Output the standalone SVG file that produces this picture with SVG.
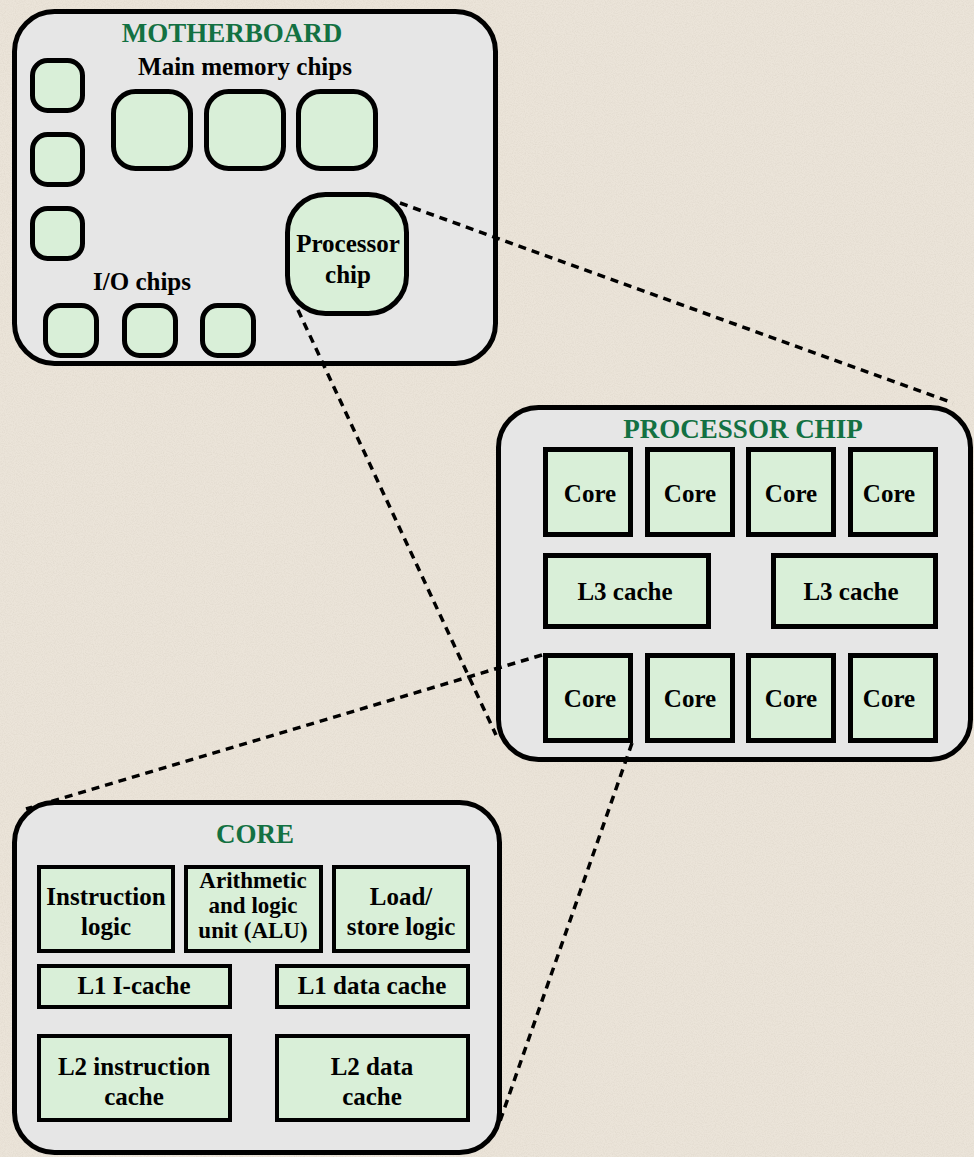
<svg xmlns="http://www.w3.org/2000/svg" width="974" height="1157" viewBox="0 0 974 1157">
<defs>
<filter id="grain" x="0" y="0" width="100%" height="100%">
<feTurbulence type="fractalNoise" baseFrequency="0.9" numOctaves="2" seed="3" result="n"/>
<feColorMatrix in="n" type="matrix" values="0 0 0 0 0.55  0 0 0 0 0.5  0 0 0 0 0.42  0 0 0 1.2 -0.45"/>
</filter>
<style>
.bg{fill:#ebe4d9}
.board{fill:#e6e6e6;stroke:#000;stroke-width:5}
.chip{fill:#d9efd8;stroke:#000;stroke-width:5}
.blk{fill:#d9efd8;stroke:#000;stroke-width:4}
.title{font-family:"Liberation Serif","Times New Roman",serif;font-weight:bold;font-size:27px;fill:#137142;text-anchor:middle}
.lbl{font-family:"Liberation Serif","Times New Roman",serif;font-weight:bold;font-size:25px;fill:#000;text-anchor:middle}
.sm{font-size:23px}
.dash{fill:none;stroke:#000;stroke-width:3.5;stroke-dasharray:8 6}
</style>
</defs>
<rect class="bg" x="0" y="0" width="974" height="1157"/>
<rect x="0" y="0" width="974" height="1157" filter="url(#grain)" opacity="0.35"/>

<g id="motherboard">
<rect class="board" x="14.5" y="11.5" width="481" height="352" rx="40"/>
<text class="title" x="232" y="42">MOTHERBOARD</text>
<text class="lbl" x="245" y="75">Main memory chips</text>
<rect class="chip" x="32.5" y="60.5" width="50" height="50" rx="15"/>
<rect class="chip" x="32.5" y="134.5" width="50" height="50" rx="15"/>
<rect class="chip" x="32.5" y="208.5" width="50" height="50" rx="15"/>
<rect class="chip" x="113.5" y="91.5" width="77" height="77" rx="22"/>
<rect class="chip" x="206.5" y="91.5" width="77" height="77" rx="22"/>
<rect class="chip" x="298.5" y="91.5" width="77" height="77" rx="22"/>
<text class="lbl" x="142" y="290">I/O chips</text>
<rect class="chip" x="45.5" y="305.5" width="51" height="50" rx="15"/>
<rect class="chip" x="124.5" y="305.5" width="51" height="50" rx="15"/>
<rect class="chip" x="202.5" y="305.5" width="51" height="50" rx="15"/>
</g>

<g id="processor-chip-small">
<rect class="chip" x="287.5" y="194.5" width="119" height="119" rx="38"/>
<text class="lbl" x="348" y="252">Processor</text>
<text class="lbl" x="348" y="283">chip</text>
</g>

<g id="processor-chip">
<rect class="board" x="498.5" y="407.5" width="472" height="352" rx="40"/>
<text class="title" x="743" y="438">PROCESSOR CHIP</text>
<rect class="chip" x="545.5" y="449.5" width="85" height="85"/>
<rect class="chip" x="647.5" y="449.5" width="85" height="85"/>
<rect class="chip" x="748.5" y="449.5" width="85" height="85"/>
<rect class="chip" x="850.5" y="449.5" width="85" height="85"/>
<text class="lbl" x="590" y="502">Core</text>
<text class="lbl" x="690" y="502">Core</text>
<text class="lbl" x="791" y="502">Core</text>
<text class="lbl" x="889" y="502">Core</text>
<rect class="chip" x="545.5" y="555.5" width="163" height="71"/>
<rect class="chip" x="773.5" y="555.5" width="162" height="71"/>
<text class="lbl" x="625" y="600">L3 cache</text>
<text class="lbl" x="851" y="600">L3 cache</text>
<rect class="chip" x="545.5" y="655.5" width="85" height="85"/>
<rect class="chip" x="647.5" y="655.5" width="85" height="85"/>
<rect class="chip" x="748.5" y="655.5" width="85" height="85"/>
<rect class="chip" x="850.5" y="655.5" width="85" height="85"/>
<text class="lbl" x="590" y="707">Core</text>
<text class="lbl" x="690" y="707">Core</text>
<text class="lbl" x="791" y="707">Core</text>
<text class="lbl" x="889" y="707">Core</text>
</g>

<g id="core">
<rect class="board" x="14.5" y="802.5" width="485" height="350" rx="40"/>
<text class="title" x="255" y="843">CORE</text>
<rect class="blk" x="39" y="867" width="134" height="84"/>
<text class="lbl" x="106" y="905">Instruction</text>
<text class="lbl" x="106" y="935">logic</text>
<rect class="blk" x="186" y="867" width="135" height="84"/>
<text class="lbl sm" x="253" y="888">Arithmetic</text>
<text class="lbl sm" x="253" y="913">and logic</text>
<text class="lbl sm" x="253" y="938">unit (ALU)</text>
<rect class="blk" x="334" y="867" width="134" height="84"/>
<text class="lbl" x="401" y="905">Load/</text>
<text class="lbl" x="401" y="935">store logic</text>
<rect class="blk" x="39" y="966" width="191" height="41"/>
<text class="lbl" x="134" y="994">L1 I-cache</text>
<rect class="blk" x="277" y="966" width="191" height="41"/>
<text class="lbl" x="372" y="994">L1 data cache</text>
<rect class="blk" x="39" y="1036" width="191" height="84"/>
<text class="lbl" x="134" y="1075">L2 instruction</text>
<text class="lbl" x="134" y="1105">cache</text>
<rect class="blk" x="277" y="1036" width="191" height="84"/>
<text class="lbl" x="372" y="1075">L2 data</text>
<text class="lbl" x="372" y="1105">cache</text>
</g>

<g id="connectors">
<line class="dash" x1="400" y1="203" x2="953" y2="403"/>
<line class="dash" x1="298" y1="310" x2="496" y2="735"/>
<line class="dash" x1="542" y1="655" x2="26" y2="809"/>
<line class="dash" x1="632" y1="743" x2="499" y2="1124"/>
</g>
</svg>
